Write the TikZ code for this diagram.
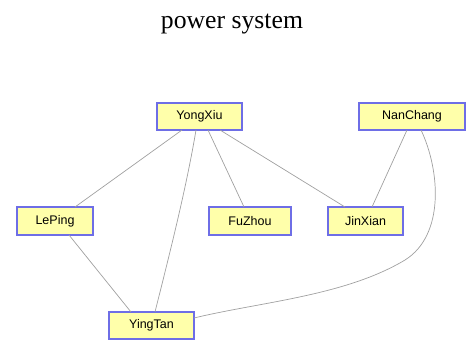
\documentclass[tikz,border=0pt]{standalone}
\usepackage{fontspec}
\setmainfont{Liberation Serif}
\newfontfamily\boxfont{Liberation Sans}
\definecolor{boxfill}{HTML}{FFFFAA}
\definecolor{boxline}{HTML}{6E6EE6}
\definecolor{edgegray}{HTML}{A0A0A0}
\begin{document}
\begin{tikzpicture}[x=1pt,y=-1pt,
  city/.style={draw=boxline,fill=boxfill,line width=1.3pt,rectangle,inner sep=0pt,
    font=\boxfont\fontsize{12.5}{14}\selectfont},
  link/.style={draw=edgegray,line width=0.7pt}]
\useasboundingbox (0,0) rectangle (468,341);
\node[font=\fontsize{25.7}{30}\selectfont] (title) at (232,24) {power system};
\node[city,minimum width=85pt,minimum height=27pt] (yx) at (199.5,116.5) {YongXiu};
\node[city,minimum width=106pt,minimum height=27pt] (nc) at (412,116.5) {NanChang};
\node[city,minimum width=76pt,minimum height=28pt] (lp) at (55,221) {LePing};
\node[city,minimum width=82pt,minimum height=28pt] (fz) at (250,221) {FuZhou};
\node[city,minimum width=75pt,minimum height=28pt] (jx) at (365.5,221) {JinXian};
\node[city,minimum width=85pt,minimum height=27pt] (yt) at (151.5,325.5) {YingTan};
\coordinate (yxa) at (182,130);
\coordinate (yxb) at (196,130);
\coordinate (yxc) at (208,130);
\coordinate (yxd) at (220,130);
\coordinate (nca) at (407,130);
\coordinate (ncb) at (421,130);
\coordinate (lpt) at (75,207);
\coordinate (lpb) at (69,235);
\coordinate (fzt) at (244,207);
\coordinate (jxa) at (345,207);
\coordinate (jxb) at (372,207);
\coordinate (yta) at (155,312);
\coordinate (ytb) at (131,312);
\coordinate (ytr) at (194,318);
\draw[link] (yxa) -- (lpt);
\draw[link] (yxb) .. controls (186,190) and (168,260) .. (yta);
\draw[link] (yxc) -- (fzt);
\draw[link] (yxd) -- (jxa);
\draw[link] (nca) -- (jxb);
\draw[link] (lpb) -- (ytb);
\draw[link] (ncb) .. controls (440,170) and (445,235) .. (405,260)
  .. controls (345,296) and (260,302) .. (ytr);
\end{tikzpicture}
\end{document}
